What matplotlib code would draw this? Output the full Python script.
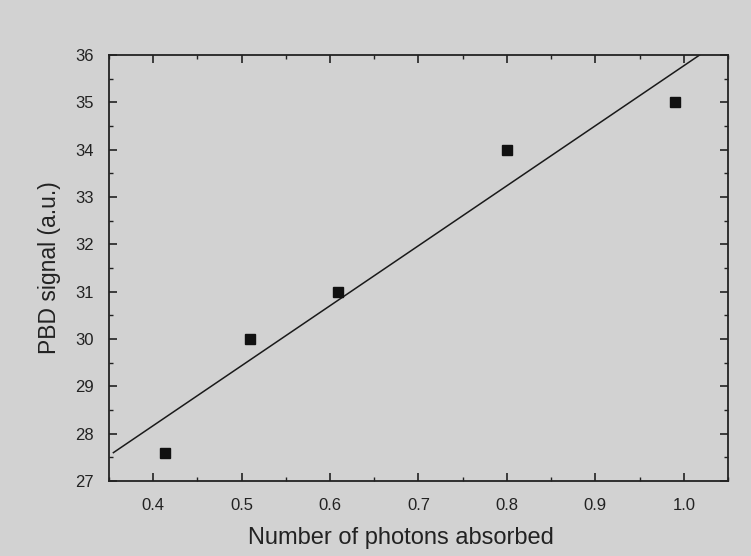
import numpy as np
import matplotlib
matplotlib.use('Agg')
from matplotlib import pyplot as plt
import matplotlib.ticker as mticker

photons = [0.413, 0.51, 0.609, 0.80, 0.99]
signal = [27.6, 30.0, 31.0, 34.0, 35.0]
xTicks = [0.4, 0.5, 0.6, 0.7, 0.8, 0.9, 1.0]
yTicks = list(range(27, 37))

bg = '#d2d2d2'
plt.rc('font', family='Liberation Sans', size=12)

fig = plt.figure(figsize=(7.51, 5.56), dpi=100, facecolor=bg)
ax = fig.add_axes([0.1451, 0.1349, 0.8243, 0.7662], facecolor=bg)

# linear fit through the points
slope, intercept = np.polyfit(photons, signal, 1)
fitX = np.array([0.355, 1.05])
ax.plot(fitX, slope * fitX + intercept, color='#1a1a1a', lw=1.1)
ax.plot(photons, signal, 's', color='#111111', markersize=6.5)

ax.set_xlim(0.35, 1.05)
ax.set_ylim(27, 36)
ax.set_xticks(xTicks)
ax.set_yticks(yTicks)
ax.xaxis.set_major_formatter(mticker.FormatStrFormatter('%.1f'))
ax.xaxis.set_minor_locator(mticker.MultipleLocator(0.05))
ax.yaxis.set_minor_locator(mticker.MultipleLocator(0.5))
ax.tick_params(which='both', direction='in', top=True, right=True, colors='#222222')
ax.tick_params(which='major', length=6, width=1.2)
ax.tick_params(which='minor', length=3, width=1)
ax.tick_params(axis='x', which='major', pad=12)
ax.tick_params(axis='y', which='major', pad=11)
for s in ax.spines.values():
	s.set_linewidth(1.3)
	s.set_color('#222222')

ax.set_xlabel('Number of photons absorbed', fontsize=17, color='#222222', labelpad=10)
ax.xaxis.label.set_x(0.472)
ax.set_ylabel('PBD signal (a.u.)', fontsize=16.5, color='#222222', labelpad=10)

fig.savefig('out.png', dpi=100, facecolor=bg)
